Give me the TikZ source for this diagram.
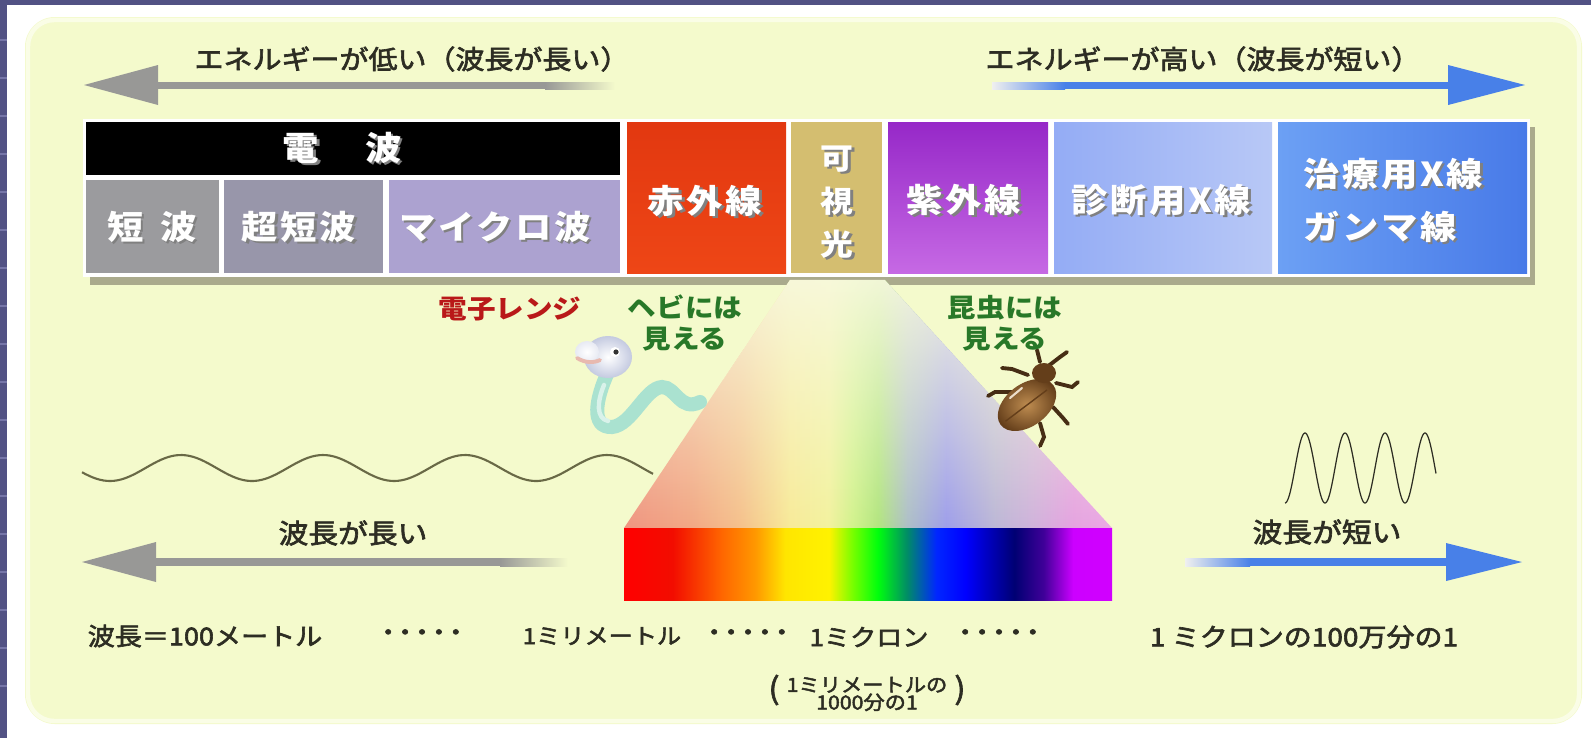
\documentclass[tikz,border=0pt]{standalone}
\usepackage{fontspec}
\setmainfont{Noto Sans CJK JP}[FakeStretch=1.1]
\newfontfamily\jpmid{Noto Sans CJK JP}[FakeStretch=1.1, FakeBold=2.4]
\newfontfamily\jpdot{Noto Sans CJK JP}[FakeStretch=1.1, FakeBold=3, LetterSpace=-36]
\usetikzlibrary{fit, fadings}

\definecolor{slateBg}{RGB}{82,82,132}
\definecolor{slateLine}{RGB}{118,118,168}
\definecolor{panelBg}{RGB}{244,250,204}
\definecolor{panelRim}{RGB}{250,253,230}
\definecolor{textDark}{RGB}{45,45,35}
\definecolor{arrowGray}{RGB}{152,152,150}
\definecolor{arrowBlue}{RGB}{72,128,232}
\definecolor{barShadow}{RGB}{170,170,140}
\definecolor{cShort}{RGB}{155,155,158}
\definecolor{cVhf}{RGB}{152,150,170}
\definecolor{cMicro}{RGB}{172,162,208}
\definecolor{cIrTop}{RGB}{226,56,16}
\definecolor{cIrBot}{RGB}{238,70,22}
\definecolor{cVis}{RGB}{212,190,112}
\definecolor{cUvTop}{RGB}{150,40,200}
\definecolor{cUvBot}{RGB}{198,105,228}
\definecolor{cXdiagL}{RGB}{148,172,245}
\definecolor{cXdiagR}{RGB}{184,200,246}
\definecolor{cXtherL}{RGB}{108,160,244}
\definecolor{cXtherR}{RGB}{72,122,232}
\definecolor{ovenRed}{RGB}{185,25,25}
\definecolor{seeGreen}{RGB}{40,120,40}
\definecolor{waveOlive}{RGB}{105,105,70}
\definecolor{snakeBody}{RGB}{170,226,208}
\definecolor{snakeHead}{RGB}{196,202,224}
\definecolor{snakeMouth}{RGB}{232,185,175}
\definecolor{beetleLight}{RGB}{190,140,80}
\definecolor{beetleDark}{RGB}{100,62,26}
\definecolor{beetleLeg}{RGB}{70,45,20}
\definecolor{haze}{RGB}{248,249,224}

% colour bar under the spread (stops between 25bp and 75bp cover the path)
\pgfdeclarehorizontalshading{spectrum}{100bp}{
  rgb(0bp)=(1,0,0); rgb(25bp)=(1,0,0); rgb(30bp)=(0.95,0.05,0);
  rgb(35bp)=(1,0.4,0); rgb(38.5bp)=(1,0.6,0); rgb(41.5bp)=(1,0.9,0);
  rgb(46bp)=(1,0.95,0); rgb(48.5bp)=(0.45,1,0); rgb(51bp)=(0,1,0.05);
  rgb(54bp)=(0,0.55,0.4); rgb(57bp)=(0,0.15,1); rgb(60bp)=(0,0,1);
  rgb(65bp)=(0,0,0.45); rgb(68bp)=(0.25,0,0.6); rgb(71bp)=(0.8,0,1);
  rgb(75bp)=(0.82,0,1); rgb(100bp)=(0.82,0,1)}
% pale version for the light spread
\pgfdeclarehorizontalshading{pastelSpread}{100bp}{
  rgb(0bp)=(0.94,0.58,0.5); rgb(25bp)=(0.94,0.58,0.5); rgb(32bp)=(0.95,0.66,0.52);
  rgb(37bp)=(0.96,0.76,0.55); rgb(42bp)=(0.97,0.92,0.6); rgb(46bp)=(0.95,0.95,0.62);
  rgb(48.5bp)=(0.82,0.95,0.55); rgb(51bp)=(0.7,0.9,0.5); rgb(54bp)=(0.68,0.75,0.78);
  rgb(58bp)=(0.62,0.62,0.92); rgb(63bp)=(0.74,0.72,0.84); rgb(67bp)=(0.82,0.7,0.86);
  rgb(71bp)=(0.9,0.64,0.88); rgb(75bp)=(0.92,0.66,0.9); rgb(100bp)=(0.92,0.66,0.9)}
\tikzfading[name=fadeDown, top color=transparent!10, bottom color=transparent!100]

% white letters with a dark drop shadow
\newcommand{\embossed}[1]{\rlap{\kern1.4pt\raisebox{-1.4pt}{\color{black!50}#1}}#1}

\tikzset{
    % --- boxes of the band ---
    baseBox/.style={rectangle, inner sep=0pt, outer sep=0pt},
    % --- labels ---
    styleBarLbl/.style={
        inner sep=0pt, text=white,
        font=\fontsize{18.8}{22}\selectfont\bfseries\addfontfeature{LetterSpace=8}
    },
    styleTopLbl/.style={inner sep=0pt, text=textDark, font=\jpmid\fontsize{15}{18}\selectfont},
    styleSeeLbl/.style={inner sep=0pt, align=center, font=\fontsize{14.8}{17.6}\selectfont\bfseries},
    styleScaleLbl/.style={inner sep=0pt, text=textDark, font=\jpmid\fontsize{13.5}{16}\selectfont},
    styleDots/.style={inner sep=0pt, text=textDark, font=\jpdot\fontsize{13}{14}\selectfont}
}

\begin{document}
\begin{tikzpicture}[x=0.02cm, y=-0.02cm]
	\useasboundingbox (0,0) rectangle (1591,738);

	% =========================================================
	% 1. slide background and panel
	% =========================================================
	\fill[white] (0,0) rectangle (1591,738);
	\fill[slateBg] (0,0) rectangle (1591,5);
	\fill[slateBg] (0,0) rectangle (7,738);
	\foreach \sy in {40,78,...,720}
		\draw[slateLine, line width=0.6pt] (0,\sy) -- (7,\sy);
	\fill[panelBg, rounded corners=17pt] (25,17) rectangle (1582,724);
	\draw[panelRim, line width=2.5pt, rounded corners=15pt] (28,20) rectangle (1579,721);

	% =========================================================
	% 2. energy arrows (top)
	% =========================================================
	\fill[arrowGray] (158,82) rectangle (545,89);
	\shade[left color=arrowGray, right color=panelBg] (545,82) rectangle (615,89);
	\fill[arrowGray] (84,85) -- (158,65) -- (158,105) -- cycle;

	\shade[left color=white!85!arrowGray, right color=arrowBlue] (992,82) rectangle (1065,89);
	\fill[arrowBlue] (1065,82) rectangle (1450,89);
	\fill[arrowBlue] (1525,85) -- (1448,65) -- (1448,105) -- cycle;

	\node[styleTopLbl] (lowLbl) at (412,59) {エネルギーが低い（波長が長い）};
	\node[styleTopLbl] (highLbl) at (1203,59) {エネルギーが高い（波長が短い）};

	% =========================================================
	% 3. band of radiation kinds
	% =========================================================
	\fill[barShadow] (90,127) rectangle (1535,285);
	\fill[white] (83,119) rectangle (1530,277);

	\node[baseBox, fill=black, fit={(86,122) (620,175)}] (radioBox) {};
	\node[baseBox, fill=cShort, fit={(86,180) (219,273)}] (shortBox) {};
	\node[baseBox, fill=cVhf, fit={(224,180) (383,273)}] (vhfBox) {};
	\node[baseBox, fill=cMicro, fit={(389,180) (620,273)}] (microBox) {};
	\node[baseBox, top color=cIrTop, bottom color=cIrBot, fit={(627,122) (786,273)}] (irBox) {};
	\node[baseBox, fill=cVis, fit={(791,122) (882,273)}] (visBox) {};
	\node[baseBox, top color=cUvTop, bottom color=cUvBot, fit={(888,122) (1048,273)}] (uvBox) {};
	\node[baseBox, left color=cXdiagL, right color=cXdiagR, fit={(1054,122) (1272,273)}] (xdiagBox) {};
	\node[baseBox, left color=cXtherL, right color=cXtherR, fit={(1278,122) (1527,273)}] (xtherBox) {};

	\node[styleBarLbl] (radioLbl) at (342,149) {\embossed{電\hspace{1.4em}波}};
	\node[styleBarLbl] (shortLbl) at (152,228) {\embossed{短\hspace{0.5em}波}};
	\node[styleBarLbl] (vhfLbl) at (299,228) {\embossed{超短波}};
	\node[styleBarLbl] (microLbl) at (495,228) {\embossed{マイクロ波}};
	\node[styleBarLbl] (irLbl) at (705,202) {\embossed{赤外線}};
	\node[styleBarLbl, align=center, font=\fontsize{17}{24.5}\selectfont\bfseries] (visLbl) at (837,203)
		{\embossed{可}\\\embossed{視}\\\embossed{光}};
	\node[styleBarLbl] (uvLbl) at (964,201) {\embossed{紫外線}};
	\node[styleBarLbl] (xdiagLbl) at (1161,201) {\embossed{診断用X線}};
	\node[styleBarLbl, anchor=west] (xtherLbl) at (1303,175) {\embossed{治療用X線}};
	\node[styleBarLbl, anchor=west] (gammaLbl) at (1303,228) {\embossed{ガンマ線}};

	% =========================================================
	% 4. visible light spread and colour bar
	% =========================================================
	\def\spreadPath{(790,280) -- (885,280) -- (1112,528) -- (624,528) -- cycle}
	\shade[shading=pastelSpread] \spreadPath;
	\fill[haze, path fading=fadeDown] \spreadPath;
	\node[baseBox, shade, shading=spectrum, fit={(624,528) (1112,600)}] (specBar) {};

	% =========================================================
	% 5. snake and beetle
	% =========================================================
	% --- snake ---
	\draw[snakeBody, line width=8pt, line cap=round]
		(608,372) .. controls (596,398) and (590,428) .. (612,427)
		.. controls (632,425) and (645,388) .. (662,387)
		.. controls (676,387) and (680,412) .. (700,402);
	\draw[white!55!snakeBody, line width=2.5pt, line cap=round]
		(604,385) .. controls (597,402) and (596,418) .. (608,421);
	\shade[inner color=white, outer color=snakeHead] (608,357) ellipse [x radius=24, y radius=21];
	\shade[inner color=white, outer color=white!60!snakeHead] (587,352) ellipse [x radius=12, y radius=11];
	\draw[snakeMouth, line width=2.2pt, line cap=round] (577,358) .. controls (585,363) and (594,363) .. (600,360);
	\fill[white] (615,352) circle [radius=5];
	\fill[black!80] (616,352) circle [radius=2.6];
	% --- beetle ---
	\begin{scope}[beetleLeg, line width=2.2pt, line cap=round]
		\draw (1028,375) -- (1012,369) -- (1002,368);
		\draw (1013,392) -- (995,392) -- (988,396);
		\draw (1040,423) -- (1044,437) -- (1040,446);
		\draw (1053,407) -- (1063,418) -- (1068,424);
		\draw (1056,383) -- (1072,387) -- (1078,382);
		\draw (1047,367) -- (1060,357) -- (1067,352);
		\draw (1040,362) -- (1037,350);
	\end{scope}
	\shade[inner color=beetleLight, outer color=beetleDark, rotate around={37:(1027,405)}]
		(1027,405) ellipse [x radius=33, y radius=21];
	\fill[beetleDark] (1044,373) ellipse [x radius=12, y radius=10];
	\draw[beetleDark, line width=0.8pt, rotate around={37:(1027,405)}] (1000,405) -- (1052,405);
	\draw[white!70!beetleLight, line width=1.2pt, line cap=round] (1010,398) -- (1022,388);

	% =========================================================
	% 6. waves
	% =========================================================
	\draw[waveOlive, line width=1.2pt] plot[domain=82:653, samples=160, smooth]
		(\x, {468-13*cos(2.5352*(\x-181))});
	\draw[textDark, line width=0.7pt] plot[domain=1285:1436, samples=200, smooth]
		(\x, {468-35*cos(9*(\x-1305))});

	% =========================================================
	% 7. labels around the spread
	% =========================================================
	\node[styleSeeLbl, text=ovenRed] (ovenLbl) at (510,309) {電子レンジ};
	\node[styleSeeLbl, text=seeGreen] (snakeLbl) at (685,323) {ヘビには\\見える};
	\node[styleSeeLbl, text=seeGreen] (insectLbl) at (1005,323) {昆虫には\\見える};

	% =========================================================
	% 8. wavelength arrows and scale
	% =========================================================
	\fill[arrowGray] (156,558) rectangle (500,566);
	\shade[left color=arrowGray, right color=panelBg] (500,558) rectangle (568,566);
	\fill[arrowGray] (82,562) -- (156,542) -- (156,582) -- cycle;
	\node[styleScaleLbl, font=\jpmid\fontsize{15.4}{18}\selectfont] (longLbl) at (353,533) {波長が長い};

	\shade[left color=white!85!arrowGray, right color=arrowBlue] (1185,558) rectangle (1250,566);
	\fill[arrowBlue] (1250,558) rectangle (1448,566);
	\fill[arrowBlue] (1522,562) -- (1446,543) -- (1446,581) -- cycle;
	\node[styleScaleLbl, font=\jpmid\fontsize{15.4}{18}\selectfont] (shortWLbl) at (1327,532) {波長が短い};

	\node[styleScaleLbl, font=\jpmid\fontsize{14}{16}\selectfont] (m100Lbl) at (205,636) {波長＝100メートル};
	\node[styleDots] (dotsA) at (422,635) {・・・・・};
	\node[styleScaleLbl, font=\jpmid\fontsize{12.5}{16}\selectfont] (mmLbl) at (602,636) {1ミリメートル};
	\node[styleDots] (dotsB) at (748,635) {・・・・・};
	\node[styleScaleLbl] (micronLbl) at (869,637) {1ミクロン};
	\node[styleDots] (dotsC) at (999,635) {・・・・・};
	\node[styleScaleLbl, align=center, font=\jpmid\fontsize{11}{10}\selectfont] (noteLbl) at (867,694)
		{1ミリメートルの\\1000分の1};
	\node[styleScaleLbl, font=\jpmid\fontsize{17}{18}\selectfont] (noteOpen) at (774,690) {(};
	\node[styleScaleLbl, font=\jpmid\fontsize{17}{18}\selectfont] (noteClose) at (960,690) {)};
	\node[styleScaleLbl, font=\jpmid\fontsize{14.5}{16}\selectfont] (pmLbl) at (1304,637) {1 ミクロンの100万分の1};

\end{tikzpicture}
\end{document}
